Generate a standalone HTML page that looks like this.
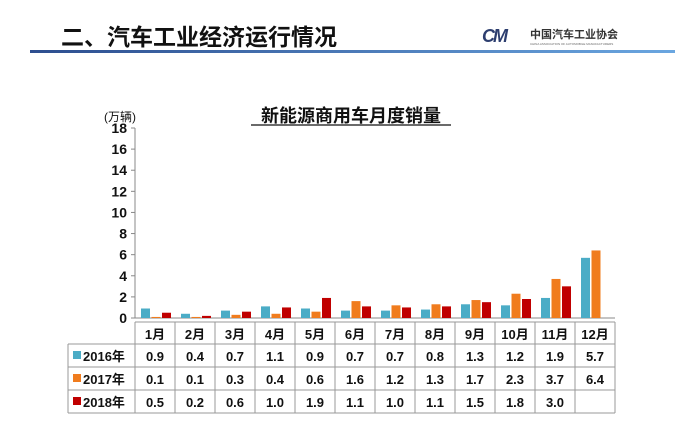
<!DOCTYPE html>
<html><head><meta charset="utf-8"><style>
body{margin:0;width:696px;height:440px;background:#fff;overflow:hidden;font-family:"Liberation Sans","Noto Sans CJK SC",sans-serif}
</style></head><body>
<svg width="696" height="440" xmlns="http://www.w3.org/2000/svg" font-family="Liberation Sans, Noto Sans CJK SC, sans-serif">
<defs><linearGradient id="g" x1="0" x2="1"><stop offset="0" stop-color="#2d4e8f"/><stop offset="1" stop-color="#6aa6e0"/></linearGradient></defs>
<text x="61" y="45" font-size="23" font-weight="bold" fill="#111">二、汽车工业经济运行情况</text>
<g>
<text x="482" y="42" font-size="18" font-weight="bold" font-style="italic" fill="#2d3e6f" letter-spacing="-2">CM</text>
<text x="530" y="38" font-size="11" font-weight="bold" fill="#333">中国汽车工业协会</text>
<text x="530" y="45" font-size="3" fill="#666">CHINA ASSOCIATION OF AUTOMOBILE MANUFACTURERS</text>
</g>
<rect x="30" y="50" width="645" height="3" fill="url(#g)"/>
<text x="351" y="122" font-size="18" font-weight="bold" text-anchor="middle" fill="#111">新能源商用车月度销量</text>
<line x1="251" y1="125" x2="451" y2="125" stroke="#111" stroke-width="1.2"/>
<text x="104" y="121" font-size="12" fill="#111">(万辆)</text>
<g id="chart"></g>
</svg>
<script>
const months=['1月','2月','3月','4月','5月','6月','7月','8月','9月','10月','11月','12月'];
const s2016=[0.9,0.4,0.7,1.1,0.9,0.7,0.7,0.8,1.3,1.2,1.9,5.7];
const s2017=[0.1,0.1,0.3,0.4,0.6,1.6,1.2,1.3,1.7,2.3,3.7,6.4];
const s2018=[0.5,0.2,0.6,1.0,1.9,1.1,1.0,1.1,1.5,1.8,3.0,null];
const yTicks=[0,2,4,6,8,10,12,14,16,18];
const seriesNames=['2016年','2017年','2018年'];
const colors=['#4bacc6','#f07c1e','#c00000'];
const NS='http://www.w3.org/2000/svg';
const g=document.getElementById('chart');
const x0=135,cw=40,yb=318,yt=128,ymax=18;
const y=v=>yb-(v/ymax)*(yb-yt);
function el(t,a,txt){const e=document.createElementNS(NS,t);for(const k in a)e.setAttribute(k,a[k]);if(txt!=null)e.textContent=txt;g.appendChild(e);return e;}
const ax=el('line',{x1:x0,y1:yt,x2:x0,y2:yb,stroke:'#888'});


yTicks.forEach(t=>{
 const tl=el('text',{x:x0-8,y:y(t)+5,'font-size':14,'font-weight':'bold','text-anchor':'end',fill:'#111'},t);
 
 
 el('line',{x1:x0-4,y1:y(t),x2:x0,y2:y(t),stroke:'#888'});
});
el('line',{x1:x0,y1:yb,x2:x0+cw*12,y2:yb,stroke:'#888'});
const data=[s2016,s2017,s2018];
const bw=9;
months.forEach((m,i)=>{
 data.forEach((s,k)=>{
  if(s[i]==null)return;
  const bx=x0+i*cw+6+k*(bw+1.5);
  const r=el('rect',{x:bx,y:y(s[i]),width:bw,height:yb-y(s[i]),fill:colors[k]});
  
  
 });
});
const rows=[322,344,367,390,413];
const tl=68,tr=x0+cw*12;
el('line',{x1:x0,y1:rows[0],x2:tr,y2:rows[0],stroke:'#999'});
for(let r=1;r<rows.length;r++)el('line',{x1:tl,y1:rows[r],x2:tr,y2:rows[r],stroke:'#999'});
el('line',{x1:tl,y1:rows[1],x2:tl,y2:rows[4],stroke:'#999'});
for(let i=0;i<=12;i++)el('line',{x1:x0+i*cw,y1:rows[0],x2:x0+i*cw,y2:rows[4],stroke:'#999'});
months.forEach((m,i)=>{
 const t=el('text',{x:x0+i*cw+cw/2,y:rows[0]+17,'font-size':13,'font-weight':'bold','text-anchor':'middle',fill:'#111'},m);
 
 
});
data.forEach((s,k)=>{
 const cy=rows[k+1]+17;
 const lk=el('rect',{x:73,y:cy-10,width:8,height:8,fill:colors[k]});
 
 
 const ln=el('text',{x:83,y:cy,'font-size':13,'font-weight':'bold',fill:'#111'},seriesNames[k]);
 
 
 s.forEach((v,i)=>{
  if(v==null)return;
  const t=el('text',{x:x0+i*cw+cw/2,y:cy,'font-size':13,'font-weight':'bold','text-anchor':'middle',fill:'#111'},v.toFixed(1));
  
  
 });
});
</script>
</body></html>
